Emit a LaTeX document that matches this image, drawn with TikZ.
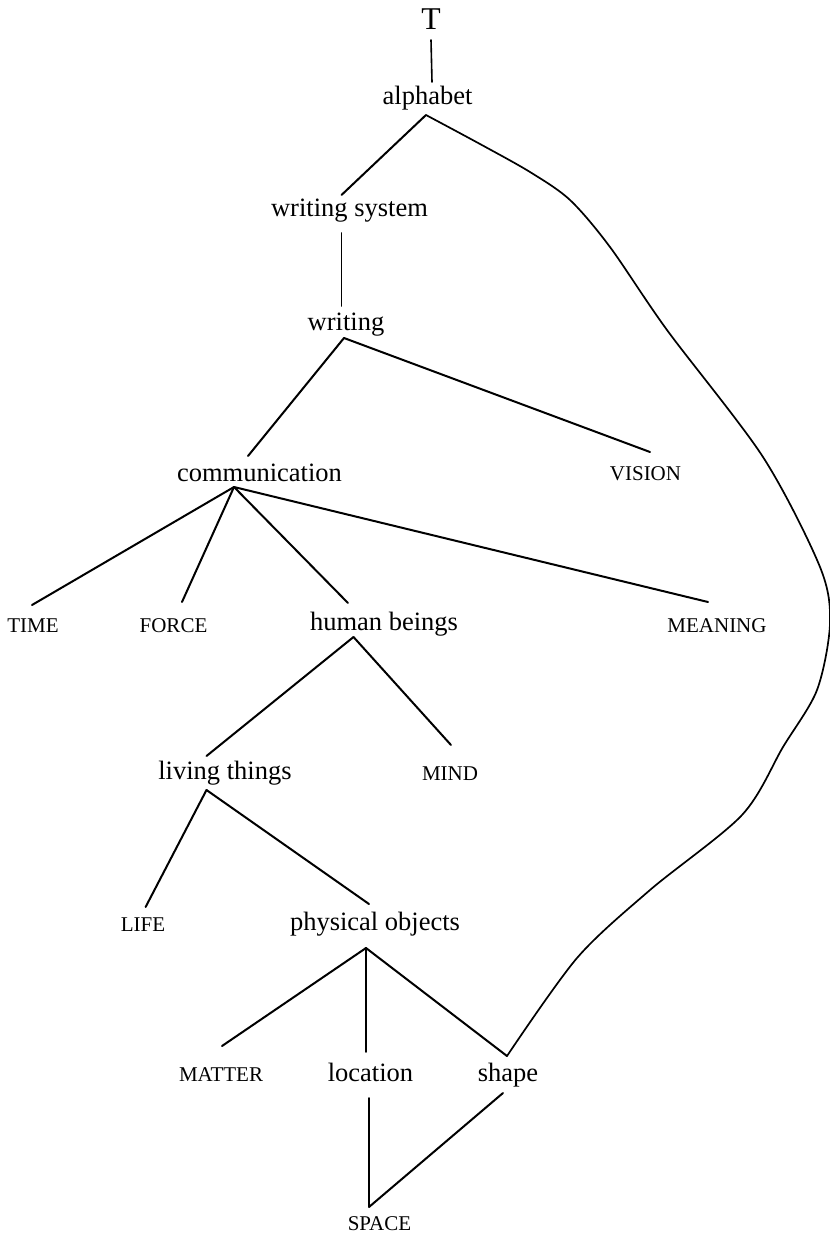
\documentclass[tikz,border=0pt]{standalone}
\usepackage{fontspec}
\setmainfont{Liberation Serif}
\begin{document}
\begin{tikzpicture}[x=1pt,y=-1pt,
  word/.style={inner sep=0pt, anchor=base, font=\fontsize{26.5}{30}\selectfont},
  capword/.style={inner sep=0pt, anchor=base, font=\fontsize{21}{24}\selectfont},
  rootword/.style={inner sep=0pt, anchor=base, font=\fontsize{31.7}{36}\selectfont},
  edge/.style={line width=2pt, line cap=round},
  vedge/.style={line width=1.6pt, line cap=round},
  arcline/.style={line width=1.7pt, line cap=round, line join=round},
]
\useasboundingbox[fill=white] (0,0) rectangle (830,1235);

% labels
\node[rootword] (T)     at (431,29)    {T};
\node[word] (alphabet) at (427.5,104) {alphabet};
\node[word] (ws)       at (349.5,216) {writing system};
\node[word] (writing)  at (346,330)   {writing};
\node[word] (comm)     at (259.5,481) {communication};
\node[capword] (vision)   at (645.5,480) {VISION};
\node[capword] (time)     at (33,632)    {TIME};
\node[capword] (force)    at (173.5,632) {FORCE};
\node[word] (human)    at (384,630)   {human beings};
\node[capword] (meaning)  at (717,632)   {MEANING};
\node[word] (living)   at (225,779)   {living things};
\node[capword] (mind)     at (450,780)   {MIND};
\node[capword] (life)     at (143,931)   {LIFE};
\node[word] (physical) at (375,930)   {physical objects};
\node[capword] (matter)   at (221,1081)  {MATTER};
\node[word] (location) at (370.5,1081){location};
\node[word] (shape)    at (508,1081)  {shape};
\node[capword] (space)    at (379.5,1230){SPACE};

% attachment points above and below the labels
\coordinate (T-out)        at (431,40);
\coordinate (alphabet-in)  at (432,82);
\coordinate (alphabet-out) at (426,115);
\coordinate (ws-in)        at (341.5,195);
\coordinate (ws-out)       at (341.5,233);
\coordinate (writing-in)   at (341.5,306);
\coordinate (writing-out)  at (344,338);
\coordinate (comm-in)      at (248,456);
\coordinate (vision-in)    at (650,452);
\coordinate (comm-out)     at (234,487);
\coordinate (time-in)      at (32,605);
\coordinate (force-in)     at (182,602);
\coordinate (human-in)     at (348,603);
\coordinate (meaning-in)   at (708,602);
\coordinate (human-out)    at (353.5,637);
\coordinate (living-in)    at (206.5,756);
\coordinate (mind-in)      at (451,745);
\coordinate (living-out)   at (206.5,790);
\coordinate (life-in)      at (145.6,907);
\coordinate (physical-in)  at (369,904);
\coordinate (physical-out) at (366,948);
\coordinate (matter-in)    at (222,1046);
\coordinate (location-in)  at (366,1052);
\coordinate (shape-in)     at (507,1056);
\coordinate (location-out) at (369,1098);
\coordinate (shape-out)    at (503,1093);
\coordinate (space-in)     at (369,1207);

% tree edges
\draw[vedge] (T-out) -- (alphabet-in);
\draw[edge] (alphabet-out) -- (ws-in);
\draw[vedge] (ws-out) -- (writing-in);
\draw[edge] (writing-out) -- (comm-in);
\draw[edge] (writing-out) -- (vision-in);
\draw[edge] (comm-out) -- (time-in);
\draw[edge] (comm-out) -- (force-in);
\draw[edge] (comm-out) -- (human-in);
\draw[edge] (comm-out) -- (meaning-in);
\draw[edge] (human-out) -- (living-in);
\draw[edge] (human-out) -- (mind-in);
\draw[edge] (living-out) -- (life-in);
\draw[edge] (living-out) -- (physical-in);
\draw[edge] (physical-out) -- (matter-in);
\draw[vedge] (physical-out) -- (location-in);
\draw[edge] (physical-out) -- (shape-in);
\draw[vedge] (location-out) -- (space-in);
\draw[edge] (shape-out) -- (space-in);

% long arc from alphabet down to shape
\draw[arcline] plot[smooth, tension=0.5] coordinates {
  (alphabet-out) (480,144) (530,172) (570,200) (610,247) (667,330)
  (763,457) (820,567) (830,623) (817,690) (783,747) (742,815)
  (650,890) (577,958) (shape-in)};
\end{tikzpicture}
\end{document}
